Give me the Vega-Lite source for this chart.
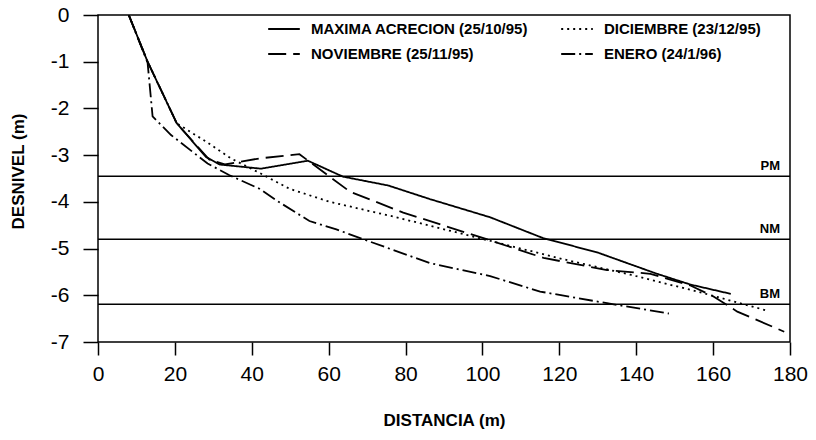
{
  "$schema": "https://vega.github.io/schema/vega-lite/v6.json",
  "width": 692,
  "height": 327,
  "autosize": {"type": "none"},
  "padding": {"left": 98, "top": 15, "right": 26, "bottom": 98},
  "background": "white",
  "config": {
    "font": "Liberation Sans",
    "view": {"stroke": "black", "strokeWidth": 1.5},
    "axis": {
      "domain": false,
      "grid": false,
      "tickColor": "black",
      "tickWidth": 1.5,
      "labelColor": "black",
      "labelFont": "Liberation Sans",
      "labelFontSize": 21,
      "titleFont": "Liberation Sans",
      "titleFontSize": 17,
      "titleFontWeight": "bold",
      "titleColor": "black"
    }
  },
  "datasets": {
    "perfiles": [
      {"serie": "MAXIMA ACRECION (25/10/95)", "distancia": 8, "desnivel": 0},
      {"serie": "MAXIMA ACRECION (25/10/95)", "distancia": 12.9, "desnivel": -1.0},
      {"serie": "MAXIMA ACRECION (25/10/95)", "distancia": 20.5, "desnivel": -2.32},
      {"serie": "MAXIMA ACRECION (25/10/95)", "distancia": 28.1, "desnivel": -3.04},
      {"serie": "MAXIMA ACRECION (25/10/95)", "distancia": 31.6, "desnivel": -3.2},
      {"serie": "MAXIMA ACRECION (25/10/95)", "distancia": 42.4, "desnivel": -3.29},
      {"serie": "MAXIMA ACRECION (25/10/95)", "distancia": 54.6, "desnivel": -3.12},
      {"serie": "MAXIMA ACRECION (25/10/95)", "distancia": 63.7, "desnivel": -3.46},
      {"serie": "MAXIMA ACRECION (25/10/95)", "distancia": 75.5, "desnivel": -3.65},
      {"serie": "MAXIMA ACRECION (25/10/95)", "distancia": 86.3, "desnivel": -3.94},
      {"serie": "MAXIMA ACRECION (25/10/95)", "distancia": 102, "desnivel": -4.33},
      {"serie": "MAXIMA ACRECION (25/10/95)", "distancia": 115.9, "desnivel": -4.78},
      {"serie": "MAXIMA ACRECION (25/10/95)", "distancia": 129.8, "desnivel": -5.08},
      {"serie": "MAXIMA ACRECION (25/10/95)", "distancia": 145.4, "desnivel": -5.54},
      {"serie": "MAXIMA ACRECION (25/10/95)", "distancia": 154.1, "desnivel": -5.77},
      {"serie": "MAXIMA ACRECION (25/10/95)", "distancia": 164.6, "desnivel": -5.97},

      {"serie": "NOVIEMBRE (25/11/95)", "distancia": 8, "desnivel": 0},
      {"serie": "NOVIEMBRE (25/11/95)", "distancia": 12.9, "desnivel": -1.0},
      {"serie": "NOVIEMBRE (25/11/95)", "distancia": 20.5, "desnivel": -2.32},
      {"serie": "NOVIEMBRE (25/11/95)", "distancia": 29, "desnivel": -3.1},
      {"serie": "NOVIEMBRE (25/11/95)", "distancia": 33, "desnivel": -3.2},
      {"serie": "NOVIEMBRE (25/11/95)", "distancia": 42, "desnivel": -3.07},
      {"serie": "NOVIEMBRE (25/11/95)", "distancia": 52.4, "desnivel": -2.98},
      {"serie": "NOVIEMBRE (25/11/95)", "distancia": 65.5, "desnivel": -3.78},
      {"serie": "NOVIEMBRE (25/11/95)", "distancia": 79.4, "desnivel": -4.23},
      {"serie": "NOVIEMBRE (25/11/95)", "distancia": 101.1, "desnivel": -4.8},
      {"serie": "NOVIEMBRE (25/11/95)", "distancia": 115.9, "desnivel": -5.2},
      {"serie": "NOVIEMBRE (25/11/95)", "distancia": 132.4, "desnivel": -5.46},
      {"serie": "NOVIEMBRE (25/11/95)", "distancia": 143.7, "desnivel": -5.54},
      {"serie": "NOVIEMBRE (25/11/95)", "distancia": 154.1, "desnivel": -5.79},
      {"serie": "NOVIEMBRE (25/11/95)", "distancia": 160.2, "desnivel": -6.03},
      {"serie": "NOVIEMBRE (25/11/95)", "distancia": 166.3, "desnivel": -6.35},
      {"serie": "NOVIEMBRE (25/11/95)", "distancia": 178.5, "desnivel": -6.78},

      {"serie": "DICIEMBRE (23/12/95)", "distancia": 8, "desnivel": 0},
      {"serie": "DICIEMBRE (23/12/95)", "distancia": 12.9, "desnivel": -1.0},
      {"serie": "DICIEMBRE (23/12/95)", "distancia": 20.5, "desnivel": -2.32},
      {"serie": "DICIEMBRE (23/12/95)", "distancia": 28.1, "desnivel": -2.71},
      {"serie": "DICIEMBRE (23/12/95)", "distancia": 34.6, "desnivel": -3.07},
      {"serie": "DICIEMBRE (23/12/95)", "distancia": 42, "desnivel": -3.38},
      {"serie": "DICIEMBRE (23/12/95)", "distancia": 49.8, "desnivel": -3.72},
      {"serie": "DICIEMBRE (23/12/95)", "distancia": 60.3, "desnivel": -4.0},
      {"serie": "DICIEMBRE (23/12/95)", "distancia": 77.6, "desnivel": -4.33},
      {"serie": "DICIEMBRE (23/12/95)", "distancia": 103.7, "desnivel": -4.87},
      {"serie": "DICIEMBRE (23/12/95)", "distancia": 121.1, "desnivel": -5.23},
      {"serie": "DICIEMBRE (23/12/95)", "distancia": 138.5, "desnivel": -5.56},
      {"serie": "DICIEMBRE (23/12/95)", "distancia": 155.9, "desnivel": -5.92},
      {"serie": "DICIEMBRE (23/12/95)", "distancia": 174.1, "desnivel": -6.33},

      {"serie": "ENERO (24/1/96)", "distancia": 8, "desnivel": 0},
      {"serie": "ENERO (24/1/96)", "distancia": 12.9, "desnivel": -1.02},
      {"serie": "ENERO (24/1/96)", "distancia": 14.2, "desnivel": -2.17},
      {"serie": "ENERO (24/1/96)", "distancia": 19, "desnivel": -2.57},
      {"serie": "ENERO (24/1/96)", "distancia": 28.5, "desnivel": -3.18},
      {"serie": "ENERO (24/1/96)", "distancia": 34.2, "desnivel": -3.43},
      {"serie": "ENERO (24/1/96)", "distancia": 42, "desnivel": -3.72},
      {"serie": "ENERO (24/1/96)", "distancia": 47.2, "desnivel": -4.01},
      {"serie": "ENERO (24/1/96)", "distancia": 55, "desnivel": -4.41},
      {"serie": "ENERO (24/1/96)", "distancia": 62, "desnivel": -4.59},
      {"serie": "ENERO (24/1/96)", "distancia": 70.7, "desnivel": -4.85},
      {"serie": "ENERO (24/1/96)", "distancia": 86.3, "desnivel": -5.31},
      {"serie": "ENERO (24/1/96)", "distancia": 102, "desnivel": -5.59},
      {"serie": "ENERO (24/1/96)", "distancia": 115, "desnivel": -5.92},
      {"serie": "ENERO (24/1/96)", "distancia": 132.4, "desnivel": -6.17},
      {"serie": "ENERO (24/1/96)", "distancia": 148.5, "desnivel": -6.39}
    ],
    "niveles": [
      {"nivel": "PM", "desnivel": -3.45},
      {"nivel": "NM", "desnivel": -4.8},
      {"nivel": "BM", "desnivel": -6.19}
    ]
  },
  "layer": [
    {
      "data": {"name": "niveles"},
      "mark": {"type": "rule", "color": "black", "strokeWidth": 1.5},
      "encoding": {
        "y": {"field": "desnivel", "type": "quantitative", "scale": {"domain": [-7, 0]}}
      }
    },
    {
      "data": {"name": "niveles"},
      "mark": {"type": "text", "align": "right", "baseline": "bottom", "dx": -10, "dy": -3, "fontSize": 13, "fontWeight": "bold", "color": "black", "font": "Liberation Sans"},
      "encoding": {
        "x": {"datum": 180, "type": "quantitative"},
        "y": {"field": "desnivel", "type": "quantitative"},
        "text": {"field": "nivel"}
      }
    },
    {
      "data": {"name": "perfiles"},
      "mark": {"type": "line", "color": "black", "strokeWidth": 1.8, "clip": true},
      "encoding": {
        "x": {
          "field": "distancia", "type": "quantitative",
          "scale": {"domain": [0, 180], "nice": false},
          "axis": {"title": "DISTANCIA (m)", "values": [0, 20, 40, 60, 80, 100, 120, 140, 160, 180], "tickSize": 13, "labelPadding": 8, "titleY": 78, "titleBaseline": "middle", "labelFlush": false}
        },
        "y": {
          "field": "desnivel", "type": "quantitative",
          "scale": {"domain": [-7, 0], "nice": false},
          "axis": {"title": "DESNIVEL (m)", "values": [0, -1, -2, -3, -4, -5, -6, -7], "tickSize": 15, "labelPadding": 14, "labelExpr": "toString(datum.value)", "titleX": -80, "titleY": 156, "titleBaseline": "middle", "titleAngle": -90}
        },
        "strokeDash": {
          "field": "serie", "type": "nominal",
          "scale": {
            "domain": ["MAXIMA ACRECION (25/10/95)", "NOVIEMBRE (25/11/95)", "DICIEMBRE (23/12/95)", "ENERO (24/1/96)"],
            "range": [[1, 0], [18, 7], [2, 4], [14, 4, 2, 4]]
          },
          "legend": {
            "title": null,
            "orient": "none",
            "legendX": 169,
            "legendY": -3,
            "columns": 2,
            "columnPadding": 28,
            "rowPadding": -9,
            "symbolType": "stroke",
            "symbolSize": 1000,
            "symbolStrokeWidth": 1.8,
            "symbolStrokeColor": "black",
            "labelFont": "Liberation Sans",
            "labelFontSize": 15,
            "labelFontWeight": "bold",
            "labelColor": "black",
            "labelOffset": 10,
            "labelLimit": 0
          }
        }
      }
    }
  ]
}
